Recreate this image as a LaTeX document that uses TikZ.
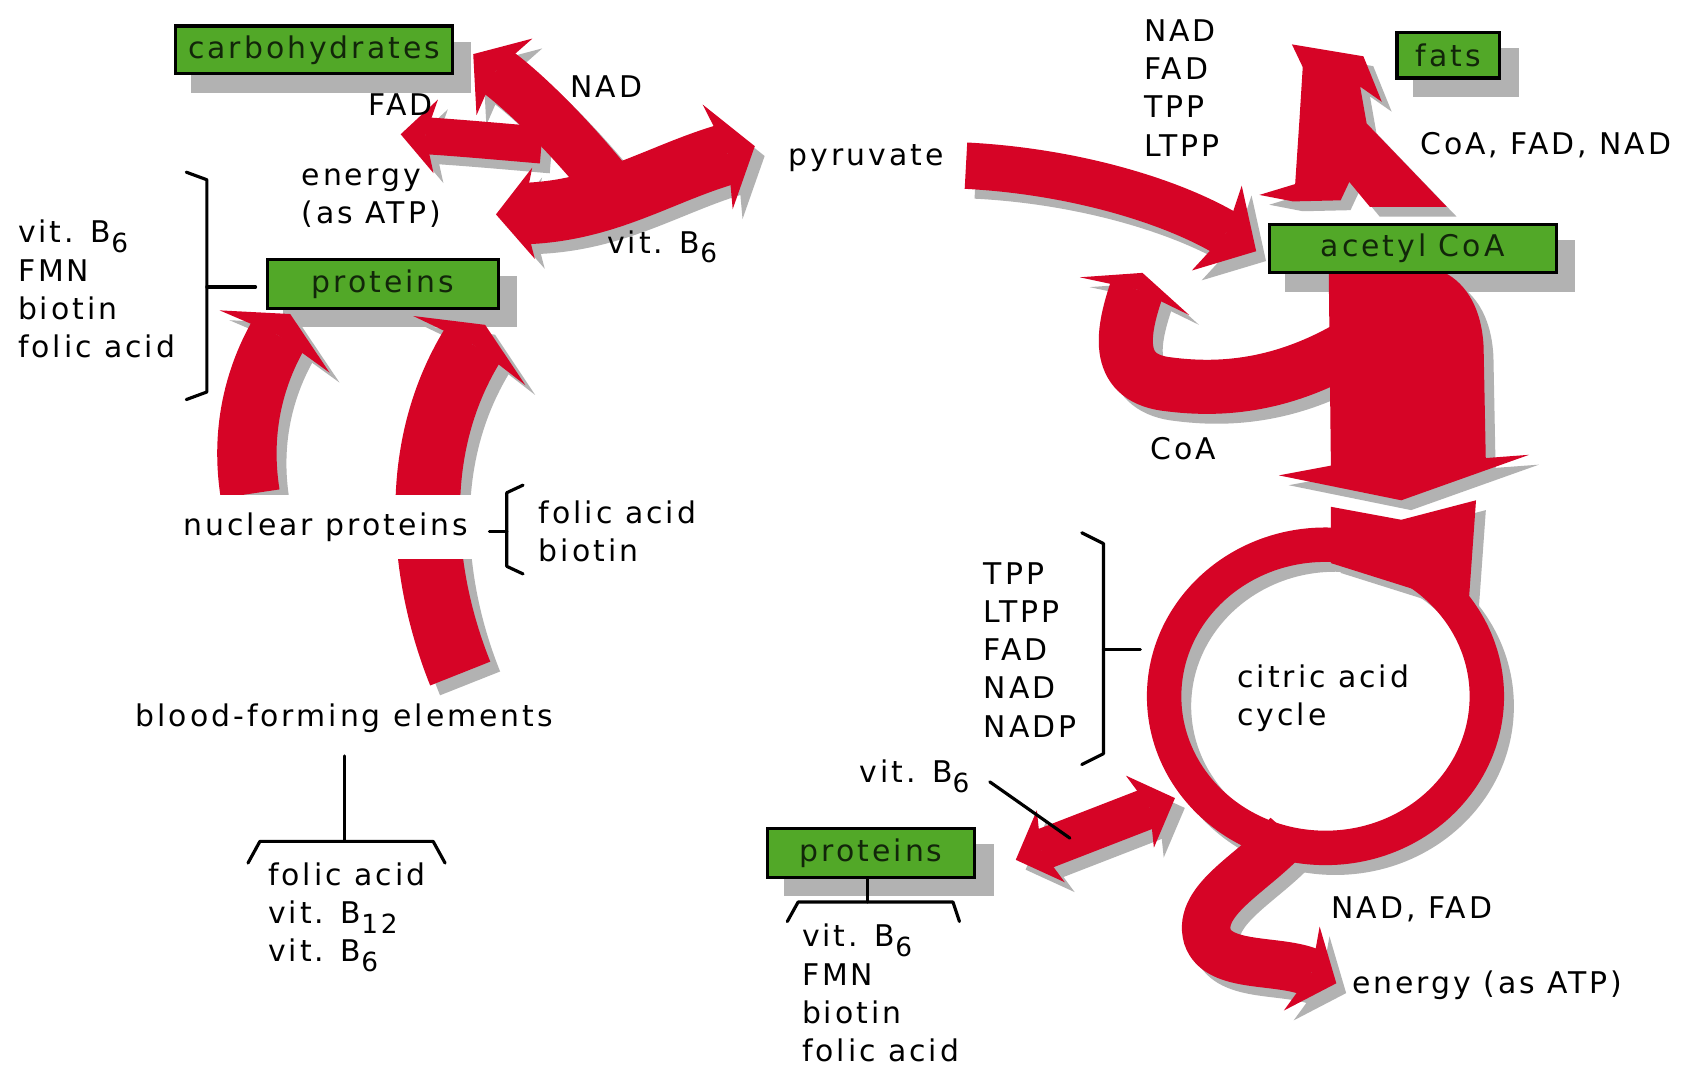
\documentclass[tikz,border=0pt]{standalone}
\usepackage{fontspec}
\setmainfont{DejaVu Sans}[LetterSpace=10]
\usetikzlibrary{arrows.meta,calc}
\definecolor{arrred}{RGB}{214,4,38}
\definecolor{shad}{RGB}{178,178,178}
\definecolor{boxgreen}{RGB}{82,168,40}
\definecolor{boxtext}{RGB}{18,38,10}
\pgfdeclarelayer{bg}
\pgfdeclarelayer{ashadow}
\pgfdeclarelayer{bshadow}
\pgfdeclarelayer{arrows}
\pgfsetlayers{bg,ashadow,bshadow,arrows,main}
\newcommand\vsub[1]{\raisebox{-0.6ex}{\fontsize{7.5pt}{7.5pt}\selectfont #1}}
\tikzset{
  txt/.style={inner sep=0pt, text=black, font=\fontsize{8.5pt}{10.9pt}\selectfont},
  lst/.style={txt, align=left, anchor=west},
  gbox/.style={draw=black, line width=0.9pt, fill=boxgreen, text=boxtext, inner sep=0pt,
     font=\fontsize{8.5pt}{10.9pt}\selectfont},
  brk/.style={draw=black, line width=0.9pt, line cap=round, line join=round},
}
\newcommand\redshapes{%
 % carbohydrates / energy / pyruvate complex
 \draw[line width=17.5pt, {Stealth[length=10.7pt,width=26pt,inset=3pt,line width=0pt]}-{Stealth[length=11pt,width=31pt,inset=3pt,line width=0pt]}]
   (eA) .. controls (560,195) and (610,160) .. (pA);
 \draw[line width=14.5pt, -{Stealth[length=11pt,width=27pt,inset=3pt,line width=0pt]}]
   (cA0) .. controls (525,125) and (485,85) .. (cA);
 \draw[line width=10.5pt, -{Stealth[length=10pt,width=21pt,inset=3pt,line width=0pt]}]
   (fA0) .. controls (465,131) and (420,127) .. (fA);
 % pyruvate -> acetyl CoA
 \draw[line width=13.2pt, -{Stealth[length=13pt,width=28pt,inset=3pt,line width=0pt]}]
   (pB0) .. controls (990,158) and (1080,185) .. (pB);
 % fats
 \fill (1193,41) -- (1259,52) -- (1276,94) -- (1256,80) -- (1262,114) -- (1336,191)
   -- (1265,191) -- (1246,168) -- (1238,185) -- (1194,186) -- (1163,180) -- (1196,170)
   -- (1200,110) -- (1203,62) -- cycle;
 % broad arrow to the cycle
 \fill (1227,250) -- (1229,430) -- (1181,439) -- (1294,462) -- (1412,420) -- (1372,423)
   -- (1370,320) .. controls (1368,280) and (1350,258) .. (1330,250) -- cycle;
 % CoA hook
 \draw[line width=15.4pt, -{Stealth[length=7pt,width=32.9pt,inset=2pt,line width=0pt]}]
   (hk0) .. controls (1180,360) and (1120,360) .. (1080,355)
   .. controls (1030,350) and (1035,310) .. (hk);
 % block entering the cycle
 \fill (1229,468) -- (1294,480) -- (1363,462) -- (1356,560) -- (1229,520) -- cycle;
 % ring
 \draw[line width=9.8pt] (ringc) ellipse [x radius=149, y radius=140];
 % tail to energy
 \draw[line width=13.8pt, -{Stealth[length=10.7pt,width=26pt,inset=3pt,line width=0pt]}]
   (tl0) .. controls (1160,805) and (1105,830) .. (1115,865)
   .. controls (1125,895) and (1180,885) .. (tl);
 % double arrow proteins <-> cycle
 \draw[line width=11.7pt, {Stealth[length=10.7pt,width=22pt,inset=3pt,line width=0pt]}-{Stealth[length=10.7pt,width=22pt,inset=3pt,line width=0pt]}]
   (dL) -- (dR);
 % arcs to proteins
 \draw[line width=16.9pt, -{Stealth[length=9pt,width=36pt,inset=2pt,line width=0pt]}]
   (la0) .. controls (222,400) and (234,350) .. (la);
 \draw[line width=18.4pt, -{Stealth[length=8.6pt,width=37.5pt,inset=2pt,line width=0pt]}]
   (ra0) .. controls (392,540) and (374,420) .. (ra);
}
\begin{document}
\begin{tikzpicture}[x=0.01083cm, y=-0.01083cm]
\useasboundingbox (0,0) rectangle (1568,985);
\begin{pgfonlayer}{bg}
\fill[white] (0,0) rectangle (1568,985);
\end{pgfonlayer}
% arrow end points
\coordinate (eA) at (458,198);
\coordinate (pA) at (697,135);
\coordinate (cA0) at (560,168);
\coordinate (cA) at (437,50);
\coordinate (fA0) at (500,134);
\coordinate (fA) at (370,124);
\coordinate (pB0) at (892,153);
\coordinate (pB) at (1160,232);
\coordinate (hk0) at (1250,318);
\coordinate (hk) at (1055,252);
\coordinate (ringc) at (1224,643);
\coordinate (tl0) at (1190,770);
\coordinate (tl) at (1234,908);
\coordinate (dL) at (938,794);
\coordinate (dR) at (1085,737);
\coordinate (la0) at (231,456);
\coordinate (la) at (268,290);
\coordinate (ra0) at (425,622);
\coordinate (ra) at (448,300);
% shadows and red arrows
\begin{pgfonlayer}{ashadow}
\begin{scope}[color=shad, transform canvas={xshift=2.8pt, yshift=-2.8pt}]
\redshapes
\end{scope}
\end{pgfonlayer}
\begin{pgfonlayer}{arrows}
\begin{scope}[color=arrred]
\redshapes
\end{scope}
\end{pgfonlayer}
% boxes
\node[gbox, minimum width=2.772cm, minimum height=0.477cm] (carbs) at (290,46) {carbohydrates};
\node[gbox, minimum width=1.029cm, minimum height=0.455cm] (fats) at (1337.5,51) {fats};
\node[gbox, minimum width=2.870cm, minimum height=0.487cm] (acetyl) at (1304.5,229.5) {acetyl CoA};
\node[gbox, minimum width=2.307cm, minimum height=0.487cm] (protL) at (353.5,262.5) {proteins};
\node[gbox, minimum width=2.069cm, minimum height=0.487cm] (protB) at (804.5,787.5) {proteins};
\begin{pgfonlayer}{bshadow}
\foreach \bx in {carbs,fats,acetyl,protL,protB}
  \fill[shad] ($(\bx.south west)+(16,16)$) rectangle ($(\bx.north east)+(16,16)$);
\end{pgfonlayer}
% labels
\node[txt] (fad1) at (370,97) {FAD};
\node[txt] (nad1) at (560,80) {NAD};
\node[lst] (energy1) at (278,183) {energy\\(as ATP)};
\node[lst] (vitb1) at (560,228) {vit. B\vsub{6}};
\node[txt] (pyr) at (800,146) {pyruvate};
\node[lst] (cof1) at (1056,81) {NAD\\FAD\\TPP\\LTPP};
\node[lst] (cof2) at (1311,134) {CoA, FAD, NAD};
\node[txt] (coa) at (1093,414) {CoA};
\node[lst] (leftlist) at (16,267) {vit. B\vsub{6}\\FMN\\biotin\\folic acid};
\node[txt, fill=white, inner xsep=2pt, inner ysep=5pt] (nuc) at (301,487) {nuclear proteins};
\node[lst] (nuclist) at (497,491) {folic acid\\biotin};
\node[txt] (blood) at (318,663) {blood-forming elements};
\node[lst] (bloodlist) at (247,847) {folic acid\\vit. B\vsub{12}\\vit. B\vsub{6}};
\node[lst] (tcalist) at (908,600) {TPP\\LTPP\\FAD\\NAD\\NADP};
\node[lst] (cac) at (1142,645) {citric acid\\cycle};
\node[lst] (vitb2) at (793,717) {vit. B\vsub{6}};
\node[lst] (botlist) at (740,917) {vit. B\vsub{6}\\FMN\\biotin\\folic acid};
\node[lst] (nadfad) at (1229,840) {NAD, FAD};
\node[lst] (energy2) at (1248,910) {energy (as ATP)};
% brackets and leader lines
\coordinate (lbrm) at (191,265);
\coordinate (lbrt) at (236,265);
\draw[brk] (172,159) -- (191,166) -- (191,362) -- (172,369);
\draw[brk] (lbrm) -- (lbrt);
\draw[brk] (483,448) -- (468,455) -- (468,523) -- (483,530);
\draw[brk] (452,491) -- (468,491);
\draw[brk] (999,492) -- (1019,502) -- (1019,696) -- (999,706);
\coordinate (tbrm) at (1019,600);
\coordinate (tbrt) at (1053,600);
\draw[brk] (tbrm) -- (tbrt);
\coordinate (bl1) at (318,698);
\coordinate (bl2) at (318,777);
\draw[brk] (bl1) -- (bl2);
\draw[brk] (229,797) -- (240,777) -- (400,777) -- (411,797);
\coordinate (pb2) at (801,833);
\draw[brk] (protB.south -| pb2) -- (pb2);
\draw[brk] (727,851) -- (737,833) -- (880,833) -- (886,851);
\coordinate (vl1) at (914,722);
\coordinate (vl2) at (988,774);
\draw[brk] (vl1) -- (vl2);
\end{tikzpicture}
\end{document}
